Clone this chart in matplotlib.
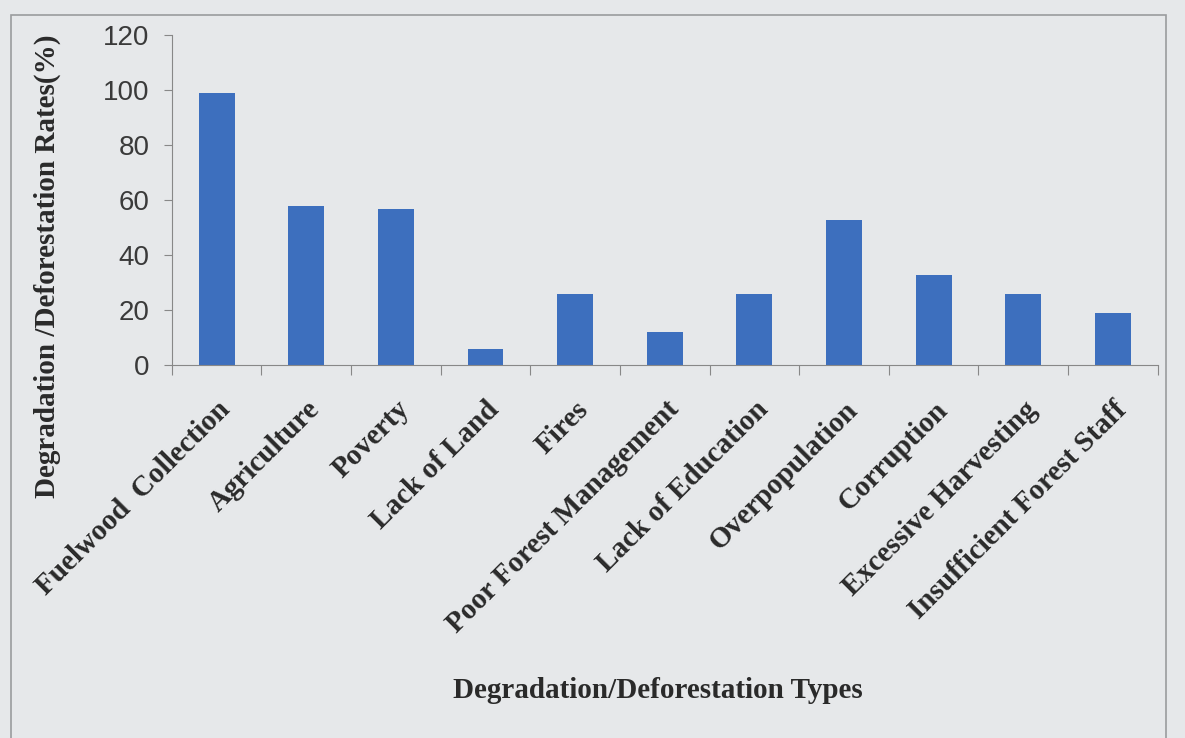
import numpy as np
import matplotlib.pyplot as plt
from matplotlib.patches import Rectangle

categories = ['Fuelwood  Collection', 'Agriculture', 'Poverty', 'Lack of Land', 'Fires',
              'Poor Forest Management', 'Lack of Education', 'Overpopulation', 'Corruption',
              'Excessive Harvesting', 'Insufficient Forest Staff']
rates = [99, 58, 57, 6, 26, 12, 26, 53, 33, 26, 19]
yticks = [0, 20, 40, 60, 80, 100, 120]

bg = '#e6e8ea'
bar_color = '#3d6fbe'
serif = 'Liberation Serif'

fig = plt.figure(figsize=(11.85, 7.38), dpi=100, facecolor=bg)
ax = fig.add_axes([0.145, 0.505, 0.832, 0.447])
ax.set_facecolor(bg)

# frame round the chart area
fig.patches.append(Rectangle((0.009, -0.02), 0.975, 1.0, transform=fig.transFigure,
                             fill=False, edgecolor='#9a9c9e', linewidth=1.2))

x = np.arange(len(categories))
ax.bar(x, rates, width=0.4, color=bar_color)

ax.set_xlim(-0.5, len(categories) - 0.5)
ax.set_ylim(0, 120)
ax.set_yticks(yticks)
ax.set_yticklabels([str(v) for v in yticks], fontsize=20, color='#3a3a3a',
                   family='Liberation Sans')

ax.set_xticks(np.arange(-0.5, len(categories), 1.0))
ax.set_xticklabels([])
ax.set_xticks(x, minor=True)
ax.set_xticklabels(categories, minor=True, rotation=45, ha='right',
                   rotation_mode='anchor', fontsize=21, fontweight='bold',
                   family=serif, color='#2a2a2a')
ax.tick_params(axis='x', which='minor', length=0, pad=22)
ax.tick_params(axis='x', which='major', length=7, color='#888888', direction='out')
ax.tick_params(axis='y', length=6, color='#888888', direction='out', pad=10)

for s in ['top', 'right']:
    ax.spines[s].set_visible(False)
ax.spines['left'].set_color('#888888')
ax.spines['bottom'].set_color('#888888')

ax.set_ylabel('Degradation /Deforestation Rates(%)', fontsize=21, fontweight='bold',
              family=serif, color='#2a2a2a')
ax.yaxis.set_label_coords(-0.112, 0.3)

fig.text(0.555, 0.065, 'Degradation/Deforestation Types', ha='center', va='center',
         fontsize=21, fontweight='bold', family=serif, color='#2a2a2a')

fig.savefig('out.png', dpi=100, facecolor=bg)
